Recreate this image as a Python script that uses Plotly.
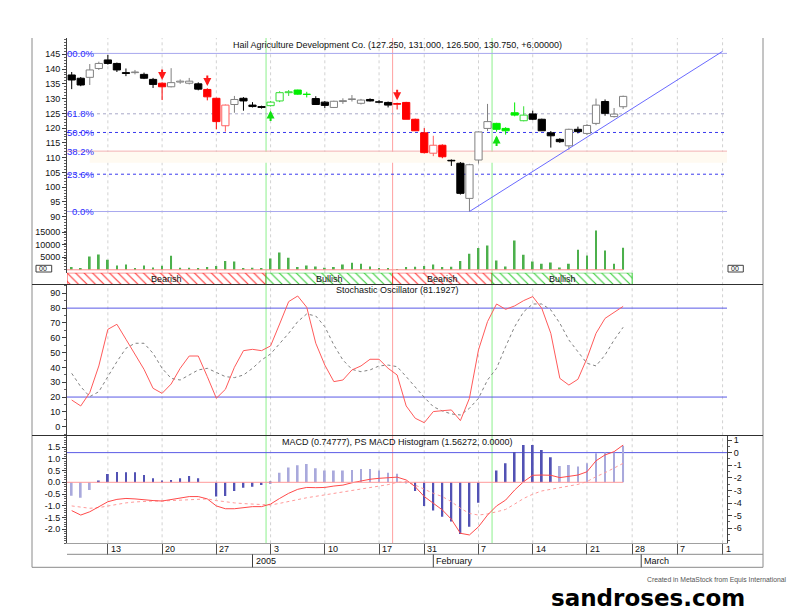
import plotly.graph_objects as go

W, H = 795, 612


def px(x):
    return x / W


def py(y):
    return 1 - y / H


# ---- price data (one bar per trading day, index 0..61) ----
days = list(range(62))

opens = [138.0, 136.9, 137.2, 140.2, 143.1, 141.9, 138.8, 138.8, 138.2, 136.5,
         135.2, 134.0, 135.6, 135.2, 135.0, 133.1, 130.1, 120.8, 128.0, 130.1,
         127.8, 127.3, 127.6, 129.2, 132.0, 132.9, 131.5, 130.0, 128.8, 127.0,
         129.0, 129.7, 128.4, 129.7, 128.9, 128.7, 128.3, 128.7, 123.0, 118.4,
         111.5, 114.2, 109.1, 108.1, 96.2, 109.2, 119.9, 121.6, 119.9, 125.2,
         122.5, 124.8, 123.0, 118.4, 116.2, 114.0, 119.6, 118.2, 121.6, 129.0,
         123.9, 127.25]
highs = [139.0, 137.3, 141.7, 142.5, 144.8, 142.2, 140.2, 139.7, 138.8, 137.0,
         135.5, 140.3, 136.5, 137.0, 135.5, 133.5, 130.3, 128.0, 130.9, 130.5,
         128.8, 127.6, 129.2, 132.5, 132.9, 133.0, 132.3, 130.8, 129.2, 129.3,
         130.1, 131.2, 129.9, 130.1, 129.5, 129.0, 128.6, 128.9, 123.2, 120.0,
         117.4, 114.5, 109.4, 108.5, 107.9, 118.9, 128.2, 121.8, 120.3, 128.7,
         127.4, 125.9, 123.2, 119.0, 116.6, 119.8, 120.5, 121.4, 130.0, 129.7,
         126.8, 131.0]
lows = [133.2, 134.2, 134.6, 139.7, 141.5, 139.0, 137.6, 138.2, 136.6, 133.6,
        129.5, 133.8, 135.0, 134.8, 132.8, 129.4, 119.6, 118.8, 125.2, 125.9,
        127.0, 126.6, 127.3, 128.8, 130.9, 131.3, 130.4, 127.9, 126.8, 126.8,
        128.2, 129.0, 128.0, 129.0, 128.4, 127.0, 126.3, 123.0, 119.0, 111.4,
        110.5, 109.8, 107.2, 97.5, 91.75, 108.0, 119.0, 118.8, 117.8, 124.0,
        122.3, 122.7, 119.0, 113.4, 115.0, 112.7, 118.2, 117.7, 121.0, 124.2,
        123.6, 126.5]
closes = [136.3, 134.6, 139.7, 141.9, 141.9, 139.7, 138.5, 139.0, 136.9, 134.8,
          134.0, 135.4, 135.9, 135.9, 133.2, 130.6, 122.2, 127.8, 129.7, 129.2,
          127.3, 127.0, 128.8, 132.0, 132.3, 131.5, 131.4, 128.0, 127.7, 129.1,
          129.3, 129.9, 129.5, 129.2, 128.8, 127.8, 128.1, 123.0, 119.1, 111.7,
          114.2, 110.3, 108.9, 97.9, 107.6, 118.7, 122.2, 119.6, 119.1, 124.4,
          124.4, 123.0, 119.1, 117.4, 115.4, 119.6, 118.8, 120.9, 127.8, 125.0,
          124.75, 130.75]
volumes = [1070, 400, 5330, 6130, 4000, 1730, 2130, 400, 1730, 930,
           1600, 5600, 800, 800, 530, 1070, 1470, 3470, 3330, 530,
           800, 530, 4530, 6930, 4800, 1070, 1730, 1330, 800, 1070,
           2130, 2800, 2400, 1330, 530, 400, 270, 1070, 1200, 1470,
           2130, 1070, 1200, 3470, 6400, 8670, 9730, 3730, 1330, 11730,
           6000, 3330, 2400, 2930, 930, 2400, 8000, 5730, 15730, 7730,
           2400, 8800]

# expert highlight per bar: k = normal, r = bearish, g = bullish
candle_tone = ("kkkkkkkkkk" "r" "kkkk" "rrr" "kkkk" "ggggg" "kkkkkkkkk"
               "rrrrrr" "kkkkk" "gggg" "kkkkkkkkkkk")
sell_signals = [10, 15, 36]
buy_signals = [22, 47]

# ---- indicators ----
stoch_k = [18, 14, 23, 41, 65.7, 69.1, 59, 48.4, 38.7, 25.9,
           22.5, 28.8, 39.4, 47.7, 47.7, 33.8, 19.2, 25.2, 40.1, 51.3,
           52.2, 51.3, 54.5, 69.3, 84.4, 88.2, 80.6, 56.3, 41.6, 30.4,
           31.5, 38.3, 41.0, 45.5, 45.5, 39.4, 34.9, 14.0, 5.7, 2.7,
           10.2, 10.8, 11.3, 4.1, 19.2, 51.8, 70.9, 82.8, 79.2, 81.5,
           85.1, 87.8, 79.9, 63.0, 32.6, 28.1, 32.0, 46.1, 63.0, 73.1,
           77.0, 81.19]
stoch_d = [36, 27.0, 20.3, 23.6, 33.8, 43.9, 52.9, 56.3, 56.3, 49.5,
           39.4, 32.6, 31.5, 34.9, 38.3, 39.4, 36.5, 33.8, 33.1, 34.9,
           39.4, 45.0, 49.1, 55.8, 63.0, 70.9, 76.1, 74.7, 67.5, 55.1,
           45.0, 38.7, 37.1, 38.3, 41.0, 41.6, 40.5, 33.8, 26.6, 19.8,
           13.5, 10.6, 8.6, 7.9, 12.4, 19.2, 31.5, 39.4, 54.0, 67.5,
           77.6, 82.8, 82.8, 78.8, 69.8, 58.5, 50.6, 42.8, 41.0, 48.4,
           58.5, 67.1]
macd_hist = [-0.57, -0.66, -0.33, 0.06, 0.35, 0.44, 0.43, 0.43, 0.31, 0.17,
             0.06, 0.10, 0.17, 0.27, 0.17, 0.0, -0.61, -0.59, -0.37, -0.23,
             -0.19, -0.12, -0.03, 0.41, 0.63, 0.73, 0.78, 0.60, 0.50, 0.50,
             0.50, 0.53, 0.57, 0.57, 0.50, 0.41, 0.36, -0.05, -0.37, -1.01,
             -1.21, -1.47, -1.68, -2.21, -1.90, -0.87, 0.0, 0.50, 0.81, 1.30,
             1.59, 1.59, 1.38, 1.07, 0.70, 0.74, 0.67, 0.81, 1.24, 1.27,
             1.27, 1.56]
hist_shade = "lll" + "d" * 20 + "l" * 15 + "d" * 16 + "l" * 8
macd_line = [-1.21, -1.40, -1.26, -1.04, -0.83, -0.73, -0.69, -0.71, -0.76, -0.78,
             -0.80, -0.73, -0.66, -0.61, -0.61, -0.71, -1.01, -1.13, -1.13, -1.07,
             -1.04, -1.04, -0.93, -0.69, -0.47, -0.30, -0.22, -0.23, -0.22, -0.16,
             -0.12, -0.02, 0.07, 0.13, 0.17, 0.20, 0.22, 0.10, -0.19, -0.61,
             -0.90, -1.18, -1.58, -2.18, -2.25, -1.90, -1.40, -1.01, -0.76, -0.33,
             0.03, 0.30, 0.31, 0.30, 0.20, 0.24, 0.31, 0.45, 0.92, 1.17,
             1.31, 1.59]
macd_signal = [-1.01, -1.07, -1.11, -1.08, -1.01, -0.94, -0.88, -0.84, -0.81, -0.80,
               -0.80, -0.78, -0.76, -0.73, -0.71, -0.71, -0.78, -0.84, -0.88, -0.91,
               -0.94, -0.97, -0.97, -0.90, -0.81, -0.73, -0.66, -0.60, -0.54, -0.49,
               -0.43, -0.36, -0.29, -0.22, -0.16, -0.10, 0.0, 0.03, -0.12, -0.30,
               -0.47, -0.61, -0.83, -1.11, -1.33, -1.40, -1.35, -1.26, -1.16, -0.93,
               -0.69, -0.51, -0.37, -0.30, -0.22, -0.14, -0.09, 0.03, 0.24, 0.41,
               0.60, 0.81]

# fibonacci retracement
fib_low, fib_high = 91.75, 145.3
fib_ratios = [1.0, 0.618, 0.5, 0.382, 0.236, 0.0]
fib_labels = ["00.0%", "61.8%", "50.0%", "38.2%", "23.6%", "0.0%"]

trend_x = [44, 72]
trend_y = [91.75, 146.0]

# date axis
tick_days = [4, 10, 16, 22, 28, 34, 39, 45, 51, 57, 62, 67, 72]
tick_labels = ["13", "20", "27", "3", "10", "17", "31", "7", "14", "21", "28", "7", "1"]
month_days = [20, 40, 63]
month_labels = ["2005", "February", "March"]

signal_green = [21.5, 46.5]
signal_red = [35.5]

band_start = [-0.52, 21.5, 35.5, 46.5]
band_end = [21.5, 35.5, 46.5, 62.0]
band_names = ["Bearish", "Bullish", "Bearish", "Bullish"]

FONT = "Liberation Sans, Arial, sans-serif"
X0, X1 = -0.52, 72.49

fig = go.Figure()

# ---- candles ----
tones = {"k": ("#808080", "#000000"), "r": ("#ff6060", "#ff0000"),
         "g": ("#33dd33", "#00ee00")}
body_fill, body_line, wick_col = [], [], []
for o, c, t in zip(opens, closes, candle_tone):
    up_col, down_col = tones[t]
    if c >= o:
        body_fill.append("white")
        body_line.append(up_col)
        wick_col.append(up_col)
    else:
        body_fill.append(down_col)
        body_line.append(down_col)
        wick_col.append(down_col)

wicks = {}
for i, o, h, l, c, col in zip(days, opens, highs, lows, closes, wick_col):
    xs, ys = wicks.setdefault(col, ([], []))
    xs += [i, i, None, i, i, None]
    ys += [max(o, c), h, None, min(o, c), l, None]
for col, (xs, ys) in wicks.items():
    fig.add_trace(go.Scatter(x=xs, y=ys, mode="lines", line=dict(color=col, width=1),
                             hoverinfo="skip", showlegend=False, yaxis="y"))

fig.add_trace(go.Bar(x=days, y=[abs(c - o) for o, c in zip(opens, closes)],
                     base=[min(o, c) for o, c in zip(opens, closes)], width=0.8,
                     marker=dict(color=body_fill, line=dict(color=body_line, width=1)),
                     showlegend=False, yaxis="y"))

fig.add_trace(go.Scatter(x=trend_x, y=trend_y, mode="lines",
                         line=dict(color="#6a6aff", width=1), showlegend=False, yaxis="y"))

# volume
fig.add_trace(go.Bar(x=days, y=volumes, width=0.2, marker=dict(color="#4cb04c", line_width=0),
                     showlegend=False, yaxis="y3"))

# trend band
band_cols = {"Bearish": "#ff3030", "Bullish": "#33cc33"}
fig.add_trace(go.Bar(
    x=[(s + e) / 2 for s, e in zip(band_start, band_end)],
    y=[1] * len(band_names), base=0,
    width=[e - s for s, e in zip(band_start, band_end)],
    marker=dict(color="white",
                line=dict(color=[band_cols[n] for n in band_names], width=1),
                pattern=dict(shape="\\", fgcolor=[band_cols[n] for n in band_names],
                             bgcolor="white", size=6, solidity=0.18)),
    showlegend=False, yaxis="y9"))

# stochastic
fig.add_trace(go.Scatter(x=days, y=stoch_d, mode="lines",
                         line=dict(color="#808080", width=1, dash="dot"),
                         showlegend=False, yaxis="y5"))
fig.add_trace(go.Scatter(x=days, y=stoch_k, mode="lines",
                         line=dict(color="#ff5a5a", width=1), showlegend=False, yaxis="y5"))

# MACD
fig.add_trace(go.Bar(x=days, y=macd_hist, width=0.2,
                     marker=dict(color=["#5252b4" if s == "d" else "#a9a9dc" for s in hist_shade],
                                 line_width=0),
                     showlegend=False, yaxis="y7"))
fig.add_trace(go.Scatter(x=days, y=macd_signal, mode="lines",
                         line=dict(color="#ff9a9a", width=1, dash="dot"),
                         showlegend=False, yaxis="y7"))
fig.add_trace(go.Scatter(x=days, y=macd_line, mode="lines",
                         line=dict(color="#ff4a4a", width=1), showlegend=False, yaxis="y7"))

# ---- shapes ----
shapes = []
for d in tick_days:
    shapes.append(dict(type="line", xref="x", yref="paper", x0=d, x1=d,
                       y0=py(543.3), y1=py(38), layer="below",
                       line=dict(color="#d2d2d2", width=1, dash="dot")))
shapes.append(dict(type="rect", xref="x", yref="y", x0=2, x1=X1, y0=108.3, y1=112.0,
                   fillcolor="#fffaf1", line_width=0, layer="below"))
fib_styles = {1.0: ("#a8a8ee", "solid"), 0.618: ("#a8a8c8", "dot"), 0.5: ("#3a3aee", "dot"),
              0.382: ("#f2b0b0", "solid"), 0.236: ("#3a3aee", "dot"), 0.0: ("#a8a8ee", "solid")}
for r in fib_ratios:
    lvl = fib_low + r * (fib_high - fib_low)
    col, dash = fib_styles[r]
    shapes.append(dict(type="line", xref="x", yref="y", x0=X0, x1=X1, y0=lvl, y1=lvl,
                       layer="below", line=dict(color=col, width=1, dash=dash)))
for d in signal_green:
    shapes.append(dict(type="line", xref="x", yref="paper", x0=d, x1=d, y0=py(543.3), y1=py(38),
                       layer="below", line=dict(color="#8cf08c", width=1)))
for d in signal_red:
    shapes.append(dict(type="line", xref="x", yref="paper", x0=d, x1=d, y0=py(543.3), y1=py(38),
                       layer="below", line=dict(color="#ffa0a0", width=1)))
# zero lines for volume and histogram across the data range
shapes.append(dict(type="line", xref="x", yref="y3", x0=X0, x1=days[-1], y0=0, y1=0,
                   line=dict(color="#ff8a8a", width=1)))
shapes.append(dict(type="line", xref="x", yref="y7", x0=X0, x1=days[-1], y0=0, y1=0,
                   line=dict(color="#ff9a9a", width=1)))
for lvl in (80, 20):
    shapes.append(dict(type="line", xref="x", yref="y5", x0=X0, x1=X1, y0=lvl, y1=lvl,
                       layer="below", line=dict(color="#5a5ae6", width=1)))
shapes.append(dict(type="line", xref="x", yref="y8", x0=X0, x1=X1, y0=0, y1=0,
                   layer="below", line=dict(color="#5a5ae6", width=1)))
# frame and separators
frame = "#8a8a8a"
shapes += [
    dict(type="line", xref="paper", yref="paper", x0=px(32), x1=px(32), y0=py(38), y1=py(567.3),
         line=dict(color=frame, width=1)),
    dict(type="line", xref="paper", yref="paper", x0=px(763), x1=px(763), y0=py(38), y1=py(567.3),
         line=dict(color=frame, width=1)),
    dict(type="line", xref="paper", yref="paper", x0=px(32), x1=px(763), y0=py(567.3), y1=py(567.3),
         line=dict(color=frame, width=1)),
    dict(type="line", xref="paper", yref="paper", x0=px(32), x1=px(763), y0=py(284.5), y1=py(284.5),
         line=dict(color="#303030", width=1)),
    dict(type="line", xref="paper", yref="paper", x0=px(32), x1=px(763), y0=py(435.5), y1=py(435.5),
         line=dict(color="#303030", width=1)),
    dict(type="line", xref="paper", yref="paper", x0=px(67), x1=px(763), y0=py(554.3), y1=py(554.3),
         line=dict(color=frame, width=1)),
    dict(type="rect", xref="paper", yref="paper", x0=px(36), x1=px(51.7), y0=py(272), y1=py(265.3),
         line=dict(color="#404040", width=1)),
    dict(type="rect", xref="paper", yref="paper", x0=px(728), x1=px(743.3), y0=py(272), y1=py(265.3),
         line=dict(color="#404040", width=1)),
]
for d in month_days:
    shapes.append(dict(type="line", xref="x", yref="paper", x0=d, x1=d, y0=py(554.3), y1=py(567.3),
                       line=dict(color="#404040", width=1)))

# ---- annotations ----
ann = []
small = dict(family=FONT, size=9, color="#111111")
ann.append(dict(text="Hail Agriculture Development Co. (127.250, 131.000, 126.500, 130.750, +6.00000)",
                xref="paper", yref="paper", x=px(397), y=py(45.5), yanchor="middle",
                showarrow=False, font=small))
ann.append(dict(text="Stochastic Oscillator (81.1927)", xref="paper", yref="paper",
                x=px(397), y=py(290), yanchor="middle", showarrow=False, font=small))
ann.append(dict(text="MACD (0.74777), PS MACD Histogram (1.56272, 0.0000)", xref="paper",
                yref="paper", x=px(397), y=py(441.5), yanchor="middle", showarrow=False, font=small))
for r, lab in zip(fib_ratios, fib_labels):
    ann.append(dict(text=lab, xref="paper", yref="y", x=px(95.5), y=fib_low + r * (fib_high - fib_low),
                    xanchor="right", yanchor="middle", showarrow=False,
                    font=dict(family=FONT, size=9.5, color="#2a2aff")))
for i in sell_signals:
    ann.append(dict(text="", xref="x", yref="y", x=i, y=highs[i] + 0.8, ax=0, ay=-12,
                    showarrow=True, arrowhead=2, arrowsize=0.8, arrowwidth=2,
                    arrowcolor="#ff1a1a", standoff=0))
for i in buy_signals:
    ann.append(dict(text="", xref="x", yref="y", x=i, y=lows[i] - 1.3, ax=0, ay=12,
                    showarrow=True, arrowhead=2, arrowsize=0.8, arrowwidth=2,
                    arrowcolor="#10e010", standoff=0))
for s, e, n in zip(band_start, band_end, band_names):
    ann.append(dict(text=n, xref="x", yref="paper", x=(s + e) / 2, y=py(278.6),
                    yanchor="middle", showarrow=False, font=small))
for d, lab in zip(tick_days, tick_labels):
    ann.append(dict(text=lab, xref="x", yref="paper", x=d, y=py(549), xanchor="left",
                    xshift=1, yanchor="middle", showarrow=False, font=small))
for d, lab in zip(month_days, month_labels):
    ann.append(dict(text=lab, xref="x", yref="paper", x=d, y=py(561), xanchor="left",
                    xshift=1, yanchor="middle", showarrow=False, font=small))
for x0 in (37, 729):
    ann.append(dict(text="00", xref="paper", yref="paper", x=px(x0), y=py(268.6), xanchor="left",
                    yanchor="middle", showarrow=False, font=dict(family=FONT, size=7, color="#111")))
ann.append(dict(text="Created in MetaStock from Equis International", xref="paper", yref="paper",
                x=px(789), y=py(579.5), xanchor="right", yanchor="middle", showarrow=False,
                font=dict(family=FONT, size=6.8, color="#555555")))
ann.append(dict(text="<b>sandroses.com</b>", xref="paper", yref="paper",
                x=px(648), y=py(598), xanchor="center", yanchor="middle", showarrow=False,
                font=dict(family="DejaVu Sans, Verdana, sans-serif", size=23, color="#000000")))

# ---- axes ----
tickfont = dict(family=FONT, size=9, color="#111111")


def yax(domain, rng, vals, side, minor=None, overlay=None, fmt=None):
    a = dict(domain=domain, range=rng, tickmode="array", tickvals=vals,
             ticktext=[fmt.format(v) for v in vals] if fmt else [str(v) for v in vals],
             side=side, anchor="x",
             ticks="outside", ticklen=4, tickcolor="#404040", showline=True, linecolor="#404040",
             linewidth=1, showgrid=False, zeroline=False, tickfont=tickfont, fixedrange=True)
    if minor:
        a["minor"] = dict(tickmode="linear", tick0=0, dtick=minor, ticks="outside", ticklen=2,
                          tickcolor="#606060", showgrid=False)
    if overlay:
        a["overlaying"] = overlay
    return a


price_dom = [py(272.5), py(38)]
price_rng = [71.10, 150.52]
vol_rng = [-1080, 92720]
stoch_dom = [py(435.5), py(284.5)]
stoch_rng = [-5.94, 95.95]
macd_dom = [py(543.3), py(435.5)]
macd_rng = [-2.607, 2.0]
macd_r_rng = [-7.19, 1.357]
price_ticks = list(range(90, 150, 5))
vol_ticks = [5000, 10000, 15000]
stoch_ticks = list(range(0, 100, 10))
macd_ticks = [-2.0, -1.5, -1.0, -0.5, 0.0, 0.5, 1.0, 1.5]
macd_r_ticks = [-6, -5, -4, -3, -2, -1, 0, 1]

fig.update_layout(
    width=W, height=H, autosize=False, template="none",
    margin=dict(l=0, r=0, t=0, b=0),
    paper_bgcolor="white", plot_bgcolor="rgba(0,0,0,0)",
    barmode="overlay", showlegend=False,
    font=dict(family=FONT, size=9, color="#111111"),
    xaxis=dict(domain=[px(67), px(727)], range=[X0, X1], anchor="y7", showgrid=False,
               zeroline=False, showline=True, linecolor="#a0a0a0", tickmode="array",
               tickvals=tick_days, ticks="outside", ticklen=11,
               tickcolor="#505050", showticklabels=False, fixedrange=True),
    yaxis=yax(price_dom, price_rng, price_ticks, "left", minor=1),
    yaxis2=yax(price_dom, price_rng, price_ticks, "right", minor=1, overlay="y"),
    yaxis3=yax(price_dom, vol_rng, vol_ticks, "left", overlay="y"),
    yaxis4=yax(price_dom, vol_rng, vol_ticks, "right", overlay="y"),
    yaxis5=yax(stoch_dom, stoch_rng, stoch_ticks, "left", minor=5),
    yaxis6=yax(stoch_dom, stoch_rng, stoch_ticks, "right", minor=5, overlay="y5"),
    yaxis7=yax(macd_dom, macd_rng, macd_ticks, "left", minor=0.1, fmt="{:.1f}"),
    yaxis8=yax(macd_dom, macd_r_rng, macd_r_ticks, "right", minor=0.5, overlay="y7"),
    yaxis9=dict(domain=[py(284.5), py(272.8)], range=[0, 1], visible=False, anchor="x",
                fixedrange=True),
    shapes=shapes,
    annotations=ann,
)

# page body has a default 8px margin; remove it so the figure sits at the window origin
fig.write_html("out.html", config={"displayModeBar": False},
               post_script="document.body.style.margin='0';")
